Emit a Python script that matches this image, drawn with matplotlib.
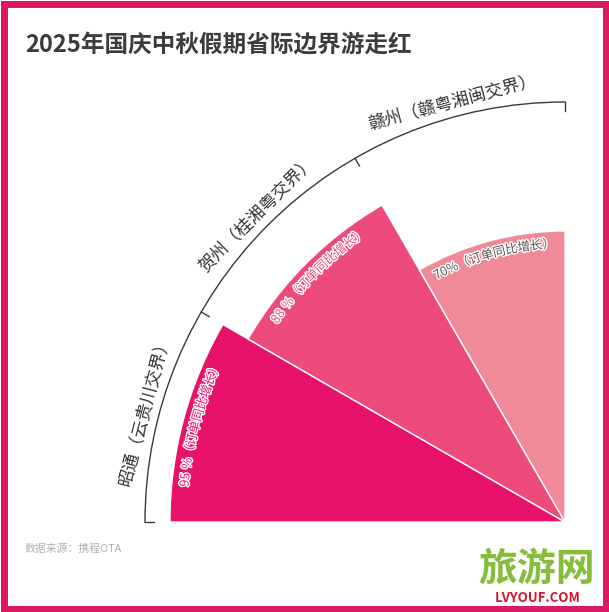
import numpy as np
import matplotlib
matplotlib.use('Agg')
import matplotlib.pyplot as plt
from matplotlib.patches import Rectangle
import matplotlib.patheffects as pe

plt.rcParams['font.family'] = ['Noto Sans CJK SC', 'DejaVu Sans']

# ---- data ----
title = '2025年国庆中秋假期省际边界游走红'
cities = ['昭通', '贺州', '赣州']
regions = ['云贵川交界', '桂湘粤交界', '赣粤湘闽交界']
growth = [95, 88, 70]
value_labels = ['95 %', '88 %', '70%']
suffix = '（订单同比增长）'
source = '数据来源：携程OTA'

colors = ['#E9126A', '#EE4B7D', '#F18A98']
text_fills = ['#E9126A', '#EE4B7D', '#555555']

W, H = 609, 612
fig = plt.figure(figsize=(W / 100, H / 100), dpi=100)
fig.patch.set_facecolor('white')

# polar quarter chart, centre at pixel (565, 522) from top-left, outer radius 420px
cx, cy, R = 565, 522, 420
ax = fig.add_axes([(cx - R) / W, (H - cy) / H, R / W, R / H], projection='polar')
ax.set_thetamin(90)
ax.set_thetamax(180)
rmax = 101
ax.set_ylim(0, rmax)
ax.patch.set_visible(False)

theta_mid_deg = [165, 135, 105]
theta_mid = np.deg2rad(theta_mid_deg)
ax.bar(theta_mid, growth, width=np.deg2rad(30), color=colors,
       edgecolor='white', linewidth=1.0, zorder=2)

ax.grid(False)
ax.set_xticks([])
ax.set_yticks([])
for name, sp in ax.spines.items():
    if name == 'polar':
        sp.set_color('#3a3a3a')
        sp.set_linewidth(1.0)
    else:
        sp.set_visible(False)
        sp.set_color('none')
        sp.set_linewidth(0)

# boundary ticks on the outer arc (pointing inwards)
for tdeg in [90, 120, 150, 180]:
    t = np.deg2rad(tdeg)
    ax.plot([t, t], [rmax - 2.2, rmax], color='#3a3a3a', lw=1.0, clip_on=False, zorder=3)

# category labels outside the arc
for tdeg, city, reg in zip(theta_mid_deg, cities, regions):
    ax.text(np.deg2rad(tdeg), 104.6, f'{city}（{reg}）', rotation=tdeg - 90,
            rotation_mode='anchor', ha='center', va='center',
            fontsize=12.5, color='#333333', clip_on=False)

# curved value labels inside the wedges
fig.canvas.draw()
renderer = fig.canvas.get_renderer()
c0 = ax.transData.transform((np.pi / 2, 0))
c1 = ax.transData.transform((np.pi / 2, 50))
px_per_unit = np.hypot(*(c1 - c0)) / 50

fs_in = 9
def char_width(ch):
    t = fig.text(0, 0, ch, fontsize=fs_in)
    w = t.get_window_extent(renderer).width
    t.remove()
    if ch == ' ':
        w = fs_in * 100 / 72 * 0.3
    return w

for tdeg, val, lab, fill in zip(theta_mid_deg, growth, value_labels, text_fills):
    text = lab + suffix
    r_units = val - 3.2
    r_px = r_units * px_per_unit
    widths = [char_width(ch) for ch in text]
    total = sum(widths)
    start = np.deg2rad(tdeg) + (total / 2) / r_px
    cum = 0
    for ch, w in zip(text, widths):
        th = start - (cum + w / 2) / r_px
        cum += w
        if ch == ' ':
            continue
        ax.text(th, r_units, ch, rotation=np.rad2deg(th) - 90, rotation_mode='anchor',
                ha='center', va='center', fontsize=fs_in, color=fill, zorder=5,
                path_effects=[pe.withStroke(linewidth=2.0, foreground='white')])

# title and source
fig.text(25 / W, 1 - 45 / H, title, fontsize=17, fontweight='bold', color='#3c3c3c',
         ha='left', va='center')
fig.text(25 / W, 1 - 549 / H, source, fontsize=7.8, color='#b0b0b0', ha='left', va='center')

# watermark
fig.text(537 / W, 1 - 569 / H, '旅游网', fontsize=28, fontweight='bold', color='#86bd3a',
         ha='center', va='center')
fig.text(538 / W, 1 - 598 / H, 'LVYOUF.COM', fontsize=9.5, fontweight='bold', color='#d4142e',
         ha='center', va='center')

# frame
bw = 7
fig.patches.append(Rectangle((bw / 2 / W, bw / 2 / H), 1 - bw / W, 1 - bw / H,
                             transform=fig.transFigure, fill=False,
                             edgecolor='#DA1B64', linewidth=bw * 72 / 100, zorder=10))

fig.savefig('out.png', dpi=100, facecolor='white')
